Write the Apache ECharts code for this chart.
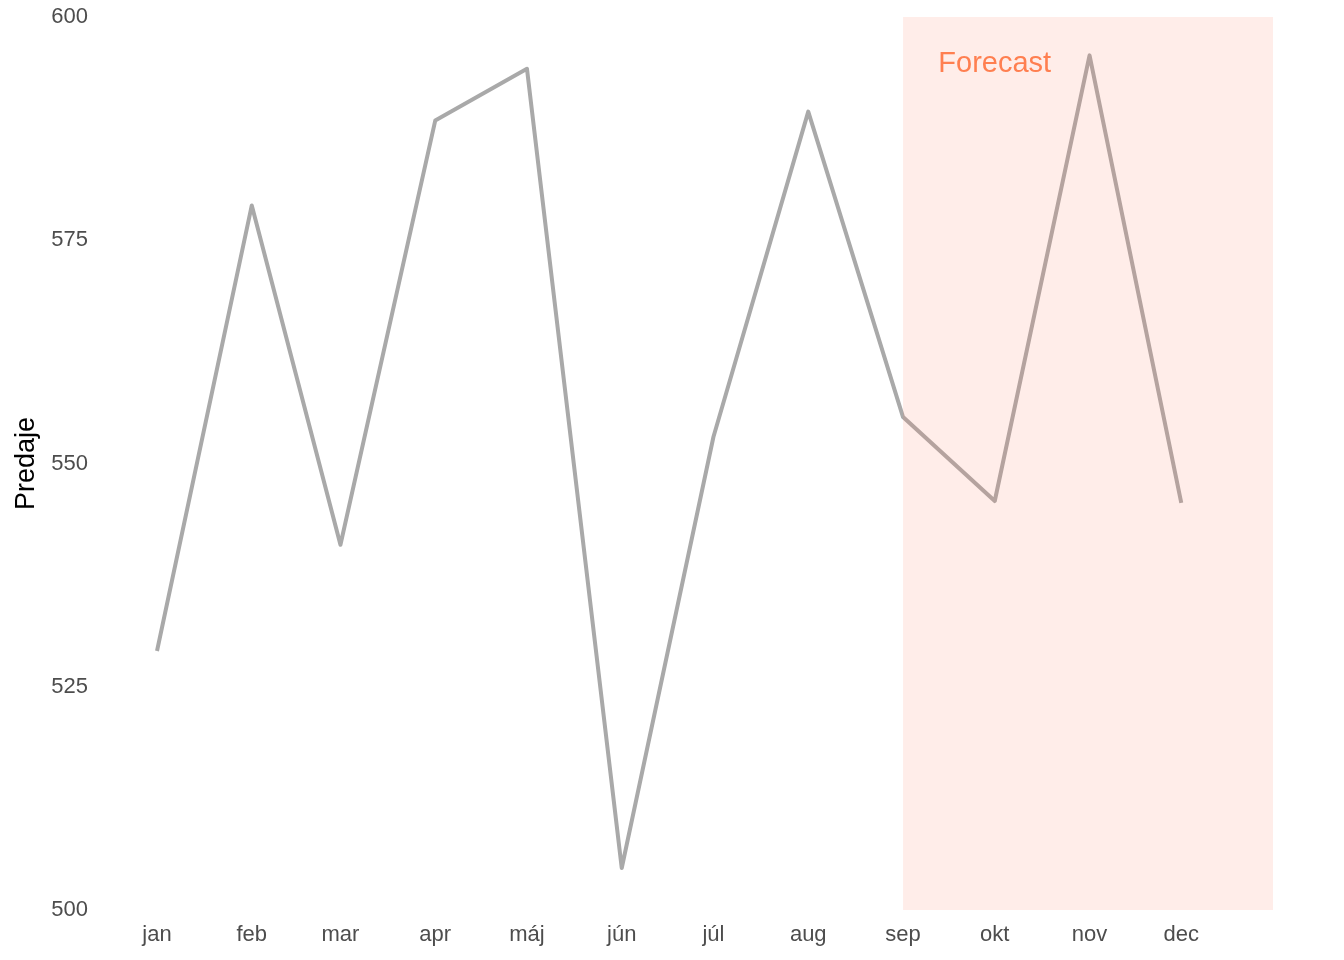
<!DOCTYPE html>
<html>
<head>
<meta charset="utf-8">
<script src="https://cdn.jsdelivr.net/npm/echarts@6/dist/echarts.min.js"></script>
<style>html,body{margin:0;padding:0;background:#fff}#c{width:1344px;height:960px}</style>
</head>
<body>
<div id="c"></div>
<script>
// Data
var monthDates = ['2024-01-01','2024-02-01','2024-03-01','2024-04-01','2024-05-01','2024-06-01','2024-07-01','2024-08-01','2024-09-01','2024-10-01','2024-11-01','2024-12-01'];
var monthLabels = ['jan','feb','mar','apr','máj','jún','júl','aug','sep','okt','nov','dec'];
var sales = [529.0, 578.9, 540.9, 588.4, 594.2, 504.7, 553.0, 589.4, 555.2, 545.8, 595.7, 545.6];
var forecastStart = '2024-09-01';
var forecastEnd = '2024-12-31';
var forecastLabelDate = '2024-10-01';
var forecastLabelValue = 594.7;
var yTicks = [500, 525, 550, 575, 600];

function toTime(s){ var p=s.split('-'); return new Date(+p[0], +p[1]-1, +p[2]).getTime(); }

var lineData = monthDates.map(function(d,i){ return [toTime(d), sales[i]]; });
var font = 'Liberation Sans, Arial, sans-serif';

var chart = echarts.init(document.getElementById('c'));
chart.setOption({
  backgroundColor: '#ffffff',
  animation: false,
  grid: { left: 157, right: 1344 - 1273, top: 17, bottom: 50, containLabel: false, outerBoundsMode: 'none' },
  xAxis: {
    type: 'time',
    min: toTime(monthDates[0]),
    max: toTime(forecastEnd),
    splitNumber: 12,
    minInterval: 28 * 86400000,
    maxInterval: 31 * 86400000,
    axisLine: { show: false },
    axisTick: { show: false },
    splitLine: { show: false },
    axisLabel: {
      color: '#4D4D4D', fontSize: 22, fontFamily: font, margin: 14,
      showMaxLabel: false,
      formatter: function(v){ var d = new Date(v); if (d.getDate() !== 1) return ''; return monthLabels[d.getMonth()]; }
    }
  },
  yAxis: {
    type: 'value', min: yTicks[0], max: yTicks[yTicks.length-1], interval: 25,
    name: 'Predaje', nameLocation: 'middle', nameRotate: 90, nameGap: 114,
    nameTextStyle: { color: '#000000', fontSize: 27, fontFamily: font },
    axisLine: { show: false }, axisTick: { show: false }, splitLine: { show: false },
    axisLabel: { color: '#4D4D4D', fontSize: 22, fontFamily: font, margin: 69, padding: [4, 0, 0, 0] }
  },
  series: [
    {
      type: 'line', data: lineData, symbol: 'none', z: 2,
      lineStyle: { color: '#A9A9A9', width: 4, cap: 'butt', join: 'round' }
    },
    {
      type: 'line', data: [], z: 5,
      markArea: {
        silent: true, z: 5,
        itemStyle: { color: 'rgba(255,127,100,0.14)' },
        data: [[{ xAxis: toTime(forecastStart), yAxis: yTicks[0] }, { xAxis: toTime(forecastEnd), yAxis: yTicks[yTicks.length-1] }]]
      }
    },
    {
      type: 'scatter', z: 8, symbolSize: 0,
      data: [[toTime(forecastLabelDate), forecastLabelValue]],
      label: { show: true, position: 'inside', formatter: 'Forecast', color: '#FF7F50', fontSize: 29, fontFamily: font, opacity: 1 }
    }
  ]
});
</script>
</body>
</html>
